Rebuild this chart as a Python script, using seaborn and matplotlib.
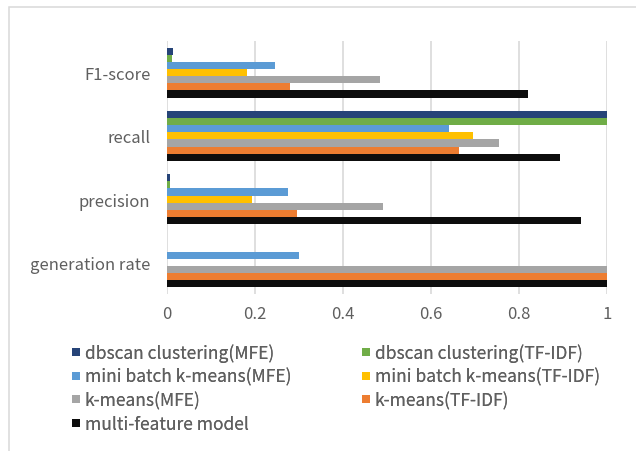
import matplotlib
matplotlib.use("Agg")
import matplotlib.pyplot as plt
from matplotlib.lines import Line2D
from matplotlib.patches import Rectangle
import seaborn as sns
import pandas as pd

# Metrics (top to bottom) and the compared methods
metrics = ["F1-score", "recall", "precision", "generation rate"]
methods = [
    "dbscan clustering(MFE)",
    "dbscan clustering(TF-IDF)",
    "mini batch k-means(MFE)",
    "mini batch k-means(TF-IDF)",
    "k-means(MFE)",
    "k-means(TF-IDF)",
    "multi-feature model",
]

# Scores per method, in the order of `metrics`
dbscan_mfe = [0.013, 1.0, 0.007, 0.0]
dbscan_tfidf = [0.012, 1.0, 0.006, 0.0]
minibatch_mfe = [0.245, 0.641, 0.274, 0.300]
minibatch_tfidf = [0.182, 0.695, 0.193, 0.0]
kmeans_mfe = [0.485, 0.755, 0.491, 1.0]
kmeans_tfidf = [0.280, 0.664, 0.295, 1.0]
multi_feature = [0.820, 0.893, 0.941, 1.0]

colors = ["#264478", "#70AD47", "#5B9BD5", "#FFC000", "#A5A5A5", "#ED7D31", "#0D0D0D"]
xticks = [0, 0.2, 0.4, 0.6, 0.8, 1]
xtick_labels = ["0", "0.2", "0.4", "0.6", "0.8", "1"]

series = [dbscan_mfe, dbscan_tfidf, minibatch_mfe, minibatch_tfidf,
          kmeans_mfe, kmeans_tfidf, multi_feature]
rows = []
for method, vals in zip(methods, series):
    for metric, v in zip(metrics, vals):
        rows.append({"metric": metric, "method": method, "score": v})
df = pd.DataFrame(rows)

sns.set_theme(style="white")
plt.rcParams["font.family"] = ["Noto Sans CJK SC", "DejaVu Sans"]
TEXT = "#5f5f5f"
FS = 12
LEG_FS = 12.5

W, H = 636, 452
fig = plt.figure(figsize=(W / 100, H / 100), dpi=100)
ax = fig.add_axes([167 / W, 1 - 295 / H, 440 / W, 253 / H])

palette = dict(zip(methods, colors))
sns.barplot(data=df, x="score", y="metric", hue="method", order=metrics,
            hue_order=methods, palette=palette, orient="h", width=0.79,
            linewidth=0, saturation=1, ax=ax, legend=False)

ax.set_xlim(0, 1)
ax.set_ylim(3.5, -0.5)
ax.set_xticks(xticks)
ax.set_xticklabels(xtick_labels)
ax.set_xlabel("")
ax.set_ylabel("")
ax.xaxis.grid(True, color="#D9D9D9", linewidth=1.2)
ax.set_axisbelow(True)
for s in ax.spines.values():
    s.set_visible(False)
ax.tick_params(axis="both", length=0, labelsize=FS, labelcolor=TEXT)
ax.tick_params(axis="y", pad=12)
ax.tick_params(axis="x", pad=8)

# Outer chart-area border
fig.patches.append(Rectangle((9 / W, -0.1), 1.2, 1 - 8 / H + 0.1,
                             transform=fig.transFigure, fill=False,
                             edgecolor="#D9D9D9", linewidth=1.1))

# Legend in two columns below the plot
def make_handles(idx):
    return [Line2D([], [], linestyle="none", marker="s", markersize=6,
                   markerfacecolor=colors[i], markeredgewidth=0) for i in idx]

col1 = [0, 2, 4, 6]
col2 = [1, 3, 5]
for idx, x0 in ((col1, 70), (col2, 360)):
    leg = fig.legend(make_handles(idx), [methods[i] for i in idx],
                     loc="upper left", bbox_to_anchor=(x0 / W, 1 - 344 / H),
                     bbox_transform=fig.transFigure, frameon=False,
                     fontsize=LEG_FS, handlelength=0.72, handletextpad=0.12,
                     borderpad=0, borderaxespad=0, labelspacing=0.33,
                     labelcolor=TEXT)
    fig.add_artist(leg)

fig.savefig("out.png", dpi=100, facecolor="white")
